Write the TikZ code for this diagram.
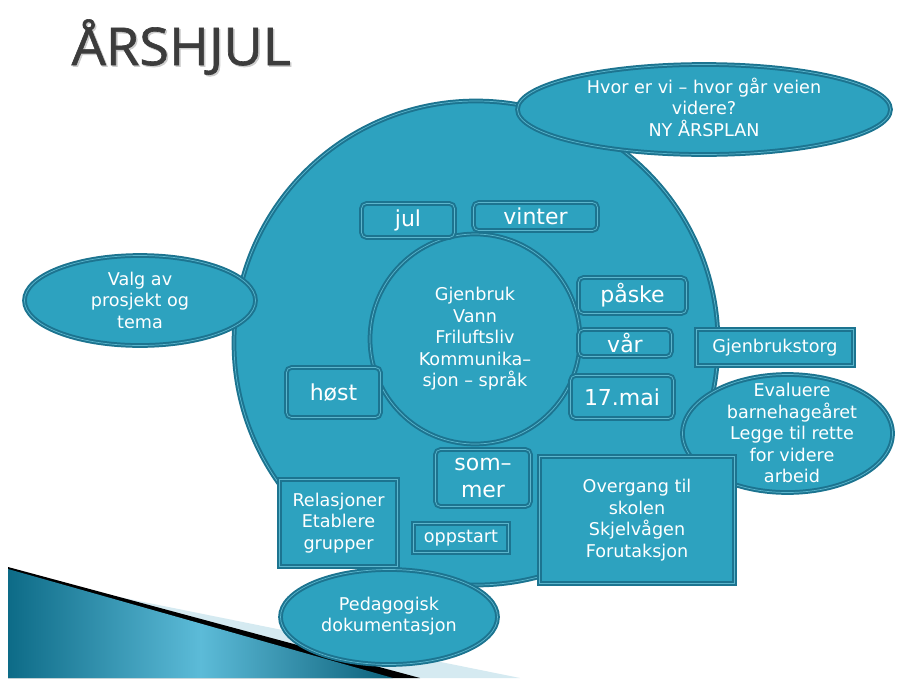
\documentclass[tikz,border=0pt]{standalone}
\usepackage{fontspec}
\setmainfont{DejaVu Sans}
\newfontfamily\titlefont[FakeBold=1.2]{Open Sans}
\usetikzlibrary{shapes.geometric}
\definecolor{fillc}{HTML}{2DA2BF}
\definecolor{edgec}{HTML}{1C7490}
\definecolor{linec}{HTML}{5CB6CD}
\definecolor{titlegray}{HTML}{3C3C3C}
\definecolor{wedgelight}{HTML}{D5EAF1}
\definecolor{wedgedark}{HTML}{0D6B87}
\definecolor{wedgemid}{HTML}{5CBBD8}
\tikzset{
  base/.style={fill=fillc, draw=edgec, double=linec, line width=2pt, double distance=0.7pt, text=white},
  ell/.style={base, ellipse, inner sep=0pt},
  rbox/.style={base, rectangle, rounded corners=5pt, inner sep=0pt},
  sbox/.style={base, rectangle, inner sep=0pt},
  small/.style={font=\fontsize{17.6}{21.5}\selectfont, align=center, text=white, inner sep=0pt},
  big/.style={font=\fontsize{22}{27}\selectfont, align=center, text=white, inner sep=0pt},
}
\begin{document}
\begin{tikzpicture}[x=1pt,y=-1pt]
\useasboundingbox (0,0) rectangle (899,678);
\fill[white] (0,0) rectangle (899,678);
% bottom-left swoosh
\fill[wedgelight] (10,575) -- (520,678) -- (10,678) -- cycle;
\fill[black] (8,567) -- (420,678) -- (8,678) -- cycle;
\shade[left color=wedgedark, right color=wedgedark!90!black, middle color=wedgemid] (8,569) -- (393,678) -- (8,678) -- cycle;
% title
\node[anchor=base west, font=\titlefont\fontsize{52}{52}\selectfont, text=gray!40, xscale=1.04] (titleshadow) at (69.5,66.5) {ÅRSHJUL};
\node[anchor=base west, font=\titlefont\fontsize{52}{52}\selectfont, text=titlegray, xscale=1.04] (title) at (68,65) {ÅRSHJUL};
% wheel
\node[base, circle, inner sep=0pt, minimum size=484pt] (wheel) at (476,343) {};
\node[base, circle, inner sep=0pt, minimum size=210pt] (hub) at (475,339) {};
\node[small] (hubtext) at (475,339) {Gjenbruk\\Vann\\Friluftsliv\\Kommunika–\\sjon – språk};
% ellipses
\node[ell, minimum width=373pt, minimum height=90pt] (plan) at (704,109.5) {};
\node[small] (plantext) at (704,107) {Hvor er vi – hvor går veien\\videre?\\NY ÅRSPLAN};
\node[ell, minimum width=231pt, minimum height=90pt] (valg) at (140,300.5) {};
\node[small] (valgtext) at (140,300) {Valg av\\prosjekt og\\tema};
\node[ell, minimum width=210pt, minimum height=118pt] (eval) at (787.5,433.5) {};
\node[small] (evaltext) at (792,433) {Evaluere\\barnehageåret\\Legge til rette\\for videre\\arbeid};
\node[ell, minimum width=217pt, minimum height=95pt] (ped) at (389,617) {};
\node[small] (pedtext) at (389,616) {Pedagogisk\\dokumentasjon};
% month boxes
\node[rbox, big, minimum width=93pt, minimum height=34pt] (jul) at (408,220.5) {jul};
\node[rbox, big, minimum width=124pt, minimum height=28pt] (vinter) at (535.5,216.5) {vinter};
\node[rbox, big, minimum width=108pt, minimum height=36pt] (paske) at (632.5,295.5) {påske};
\node[rbox, big, minimum width=93pt, minimum height=27pt] (var) at (625,343) {vår};
\node[rbox, big, minimum width=103pt, minimum height=43pt] (mai) at (622,397) {17.mai};
\node[rbox, big, minimum width=94pt, minimum height=50pt] (host) at (333.5,392.5) {høst};
\node[rbox, big, minimum width=95pt, minimum height=57pt] (sommer) at (483,478) {som–\\mer};
% square boxes
\node[sbox, small, minimum width=118pt, minimum height=87pt] (rel) at (338.5,523) {Relasjoner\\Etablere\\grupper};
\node[sbox, small, minimum width=95pt, minimum height=29pt] (opp) at (461,538) {oppstart};
\node[sbox, small, minimum width=195pt, minimum height=127pt] (overgang) at (637,520) {Overgang til\\skolen\\Skjelvågen\\Forutaksjon};
\node[sbox, small, minimum width=157pt, minimum height=36pt] (torg) at (775,347.5) {Gjenbrukstorg};
\end{tikzpicture}
\end{document}
